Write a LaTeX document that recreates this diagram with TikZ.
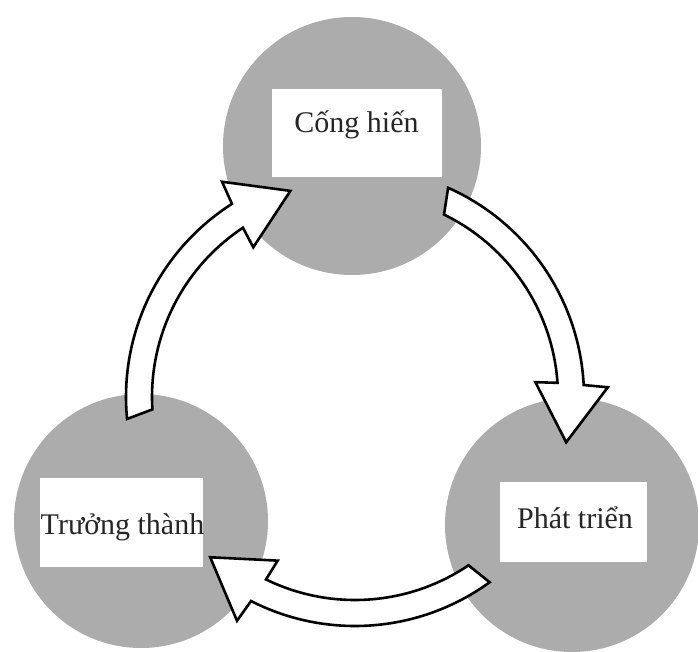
\documentclass[tikz,border=0pt]{standalone}
\usepackage{fontspec}
\setmainfont{Liberation Serif}
\usetikzlibrary{calc}
\definecolor{discgray}{RGB}{172,172,172}
\definecolor{inkgray}{RGB}{38,38,38}
\tikzset{
  disc/.style={circle, fill=discgray, draw=none, minimum size=#1, inner sep=0pt},
  labelbox/.style={rectangle, fill=white, draw=none, inner sep=0pt},
  caption/.style={font=\fontsize{30}{32}\selectfont, text=inkgray, anchor=base, inner sep=0pt},
  bendarrow/.style={fill=white, draw=black, line width=2.6pt, line join=miter},
}
% one curved block arrow of the cycle, turned by #1 degrees about the hub
\newcommand\cyclearrow[1]{%
  \draw[bendarrow]
    ($(hub)+({185.5+(#1)}:229pt)$)
      arc[start angle={185.5+(#1)}, end angle={122.5+(#1)}, radius=229pt]
    -- ($(hub)+({121.7+(#1)}:253pt)$)
    -- ($(hub)+({107.4+(#1)}:216pt)$)
    -- ($(hub)+({124.2+(#1)}:181pt)$)
    -- ($(hub)+({123.5+(#1)}:203pt)$)
      arc[start angle={123.5+(#1)}, end angle={183.5+(#1)}, radius=203pt]
    -- cycle;
}
\begin{document}
\begin{tikzpicture}[x=1pt, y=1pt]
  \useasboundingbox (0,0) rectangle (698,651);
  \fill[white] (0,0) rectangle (698,651);
  \clip (0,0) rectangle (698,651);

  % stages
  \node[disc=258pt] (topdisc)   at (352,505) {};
  \node[disc=254pt] (leftdisc)  at (141,130) {};
  \node[disc=254pt] (rightdisc) at (572,126) {};

  \node[labelbox, minimum width=170pt, minimum height=88pt] (topbox)   at (357,518) {};
  \node[labelbox, minimum width=163pt, minimum height=89pt] (leftbox)  at (121.5,128.5) {};
  \node[labelbox, minimum width=147pt, minimum height=80pt] (rightbox) at (573.5,129) {};

  \node[caption] (toptext)   at (356.5,518) {Cống hiến};
  \node[caption] (lefttext)  at (122.5,117) {Trưởng thành};
  \node[caption] (righttext) at (575,123)   {Phát triển};

  % arrows of the cycle
  \coordinate (hub) at (355,254);
  \cyclearrow{0}
  \cyclearrow{-119.5}
  \cyclearrow{-239.5}
\end{tikzpicture}
\end{document}
